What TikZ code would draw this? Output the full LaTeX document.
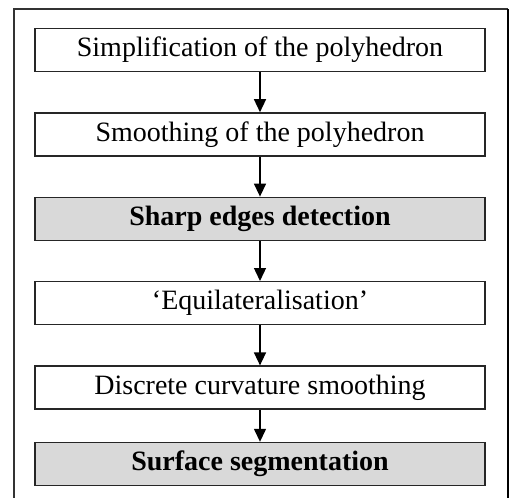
\documentclass[tikz,border=0pt]{standalone}
\usepackage{fontspec}
\setmainfont{Liberation Serif}
\usepackage{tikz}
\usetikzlibrary{arrows.meta, positioning}

\begin{document}
\begin{tikzpicture}[x=1pt, y=1pt, node distance=40pt,
  stage/.style={rectangle, draw=black!85, fill=white, line width=1.4pt, minimum width=450pt, minimum height=43pt, inner sep=0pt, align=center, font=\fontsize{28}{32}\selectfont},
  keystage/.style={stage, fill=gray!30, font=\fontsize{28}{32}\selectfont\bfseries},
  line/.style={draw, -{Triangle[width=12pt,length=13pt]}, line width=1.4pt}]

  \useasboundingbox (0,0) rectangle (515,-498);
  % open frame round the chain
  \draw [line width=1.2pt, black!80] (14,-498) -- (14,-9) -- (508,-9);
  \draw [line width=2pt] (508,-9) -- (508,-498);

  \node [stage] (simplify) at (260,-50) {Simplification of the polyhedron};
  \node [stage, below=of simplify] (smooth) {Smoothing of the polyhedron};
  \node [keystage, below=of smooth] (edges) {Sharp edges detection};
  \node [stage, below=of edges] (equil) {`Equilateralisation'};
  \node [stage, below=of equil] (curv) {Discrete curvature smoothing};
  \node [keystage, below=32pt of curv] (segment) {Surface segmentation};

  \path [line] (simplify) -- (smooth);
  \path [line] (smooth) -- (edges);
  \path [line] (edges) -- (equil);
  \path [line] (equil) -- (curv);
  \path [line] (curv) -- (segment);
\end{tikzpicture}
\end{document}
